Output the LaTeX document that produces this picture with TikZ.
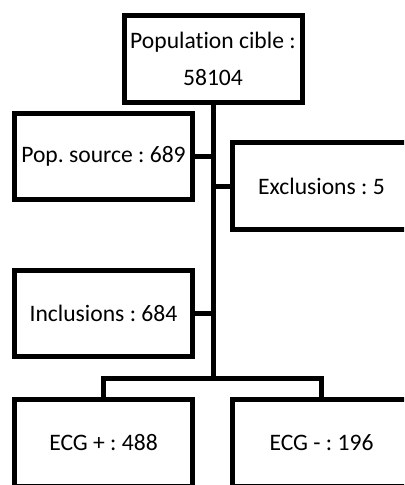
\documentclass[tikz,border=0pt]{standalone}
\usepackage{fontspec}
\setmainfont[Ligatures=NoCommon]{Carlito}
\frenchspacing
\begin{document}
\begin{tikzpicture}[x=0.75pt, y=-0.75pt]
		\def\lcol{103.5}
		\def\mcol{213}
		\def\rcol{321.5}

		\tikzset{
			basic/.style={rectangle, draw=black, line width=3.75pt, text centered, inner sep=0pt,
				font=\fontsize{17.7}{27.75}\selectfont},
			flowbox/.style={basic, minimum width=133.5pt, minimum height=65pt},
			link/.style={line width=3.75pt}
		}

		\clip (0,0) rectangle (404,485);

		% boxes

		\node[flowbox, align=center] (cible) at (\mcol,59) {Population cible :\\58104};
		\node[flowbox] (source) at (\lcol,156.5) {Pop. source : 689};
		\node[flowbox] (excl) at (\rcol,186) {Exclusions : 5};
		\node[flowbox] (incl) at (\lcol,313.5) {Inclusions : 684};
		\node[flowbox] (ecgp) at (\lcol,443) {ECG + : 488};
		\node[flowbox] (ecgm) at (\rcol,443) {ECG - : 196};

		\coordinate (split) at (\mcol,378);

		% trunk and branches

		\draw[link] (cible.south) -- (split);
		\draw[link] (source.east) -- (source.east -| split);
		\draw[link] (excl.west) -- (excl.west -| split);
		\draw[link] (incl.east) -- (incl.east -| split);
		\draw[link] (split) -| (ecgp.north);
		\draw[link] (split) -| (ecgm.north);
	\end{tikzpicture}
\end{document}
